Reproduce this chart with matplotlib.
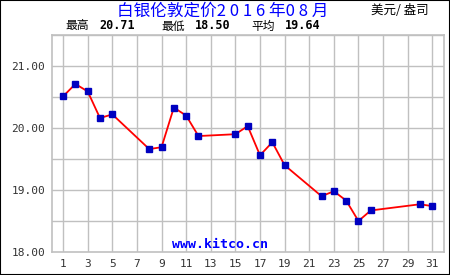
import matplotlib
matplotlib.use("Agg")
import matplotlib.pyplot as plt
from matplotlib.patches import Rectangle

days = [1, 2, 3, 4, 5, 8, 9, 10, 11, 12, 15, 16, 17, 18, 19, 22, 23, 24, 25, 26, 30, 31]
prices = [20.51, 20.71, 20.59, 20.16, 20.22, 19.66, 19.69, 20.33, 20.20, 19.87,
          19.90, 20.03, 19.56, 19.77, 19.40, 18.90, 18.98, 18.83, 18.50, 18.67,
          18.77, 18.74]
xticks = list(range(1, 32, 2))
yticks = [18.0, 19.0, 20.0, 21.0]
ygrid = [18.5, 19.0, 19.5, 20.0, 20.5, 21.0, 21.5]
title = "白银伦敦定价2 0 1 6 年0 8 月"
unit = "美元/ 盎司"
stats = [("最高", "20.71"), ("最低", "18.50"), ("平均", "19.64")]

W, H = 450, 275
fig = plt.figure(figsize=(W / 100, H / 100), dpi=100)
fig.patch.set_facecolor("white")
fig.patches.append(Rectangle((0, 0), 1, 1, transform=fig.transFigure, fill=False,
                             edgecolor="black", linewidth=1.5))

ax = fig.add_axes([52 / W, 1 - 252 / H, 392 / W, 217 / H])
ax.set_xlim(0.1, 31.95)
ax.set_ylim(18.0, 21.5)
for x in xticks:
    ax.axvline(x, color="#c0c0c0", linewidth=1, zorder=0)
for y in ygrid:
    ax.axhline(y, color="#c0c0c0", linewidth=1, zorder=0)
for s in ax.spines.values():
    s.set_color("#c0c0c0")
    s.set_linewidth(1.2)
ax.set_xticks(xticks)
ax.set_xticklabels([str(x) for x in xticks], family="DejaVu Sans Mono", fontsize=8, color="#333333")
ax.set_yticks(yticks)
ax.set_yticklabels([f"{y:.2f}" for y in yticks], family="DejaVu Sans Mono", fontsize=8, color="#333333")
ax.tick_params(length=0, pad=5)

ax.plot(days, prices, color="red", linewidth=1.3, zorder=3)
ax.plot(days, prices, linestyle="none", marker="s", markersize=4.5,
        markerfacecolor="#0000c0", markeredgecolor="#0000c0", zorder=4)

fig.text(172 / W, 1 - 245 / H, "www.kitco.cn", ha="left", va="center",
         color="#0000ff", fontsize=9.5, fontweight="bold", family="DejaVu Sans Mono")

cjk = ["Noto Sans CJK SC", "DejaVu Sans"]
fig.text(223 / W, 1 - 11 / H, title, ha="center", va="center", color="#0000ff",
         fontsize=12, family=cjk)
fig.text(400 / W, 1 - 10 / H, unit, ha="center", va="center", color="black",
         fontsize=9, family=cjk)

xs = [65, 161, 251]
for (lab, val), x in zip(stats, xs):
    fig.text(x / W, 1 - 26 / H, lab, ha="left", va="center", color="black",
             fontsize=8.5, family=cjk)
    fig.text((x + 34) / W, 1 - 26 / H, val, ha="left", va="center", color="black",
             fontsize=8.5, fontweight="bold", family="DejaVu Sans Mono")

fig.savefig("out.png", dpi=100, facecolor="white")
